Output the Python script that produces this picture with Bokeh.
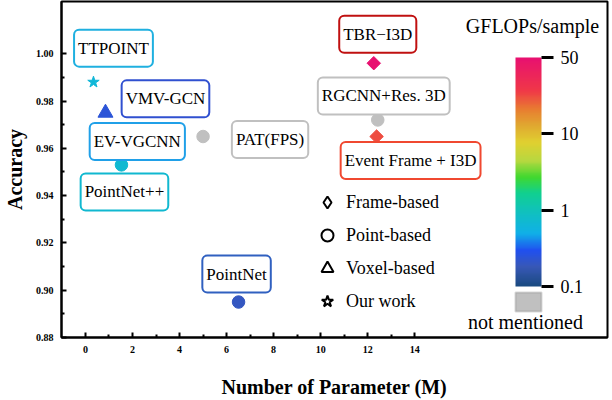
import numpy as np
from bokeh.plotting import figure
from bokeh.models import (ColumnDataSource, Label, Legend, LegendItem, ColorBar,
                          LinearColorMapper, FixedTicker, NumeralTickFormatter,
                          BoxAnnotation, Range1d)
from bokeh.transform import factor_mark
from bokeh.embed import file_html
from bokeh.resources import INLINE

# ---------------- data ----------------
methods = ["TTPOINT", "VMV-GCN", "EV-VGCNN", "PointNet++", "PAT(FPS)",
           "PointNet", "TBR\u2212I3D", "RGCNN+Res. 3D", "Event Frame + I3D"]
params = [0.34, 0.85, 0.80, 1.53, 5.00, 6.51, 12.26, 12.43, 12.38]
accuracy = [0.988, 0.975, 0.957, 0.953, 0.965, 0.895, 0.996, 0.972, 0.965]
kinds = ["Our work", "Voxel-based", "Voxel-based", "Point-based", "Point-based",
         "Point-based", "Frame-based", "Point-based", "Frame-based"]
gflops = [0.63, 0.24, 0.40, 0.70, np.nan, 0.20, 50.0, np.nan, 22.0]  # nan = not mentioned

kind_names = ["Frame-based", "Point-based", "Voxel-based", "Our work"]

cbar_ticks = [0.1, 1, 10, 50]
x_ticks = [0, 2, 4, 6, 8, 10, 12, 14]
x_minor = [1, 3, 5, 7, 9, 11, 13]
y_ticks = [0.88, 0.90, 0.92, 0.94, 0.96, 0.98, 1.00]
y_minor = [0.89, 0.91, 0.93, 0.95, 0.97, 0.99]

# ---------------- styles / layout ----------------
SERIF = "Liberation Serif"
kind_markers = ["square", "circle", "triangle", "star"]   # square turned 45 deg = diamond
legend_markers = ["diamond", "circle", "triangle", "star"]
kind_angle = {"Frame-based": np.pi / 4, "Point-based": 0.0, "Voxel-based": 0.0, "Our work": 0.0}
kind_size = {"Frame-based": 9.5, "Point-based": 12.5, "Voxel-based": 15, "Our work": 12}
label_border = ["#1fb0e0", "#3050d0", "#20a0e8", "#10b8d0", "#c0c0c0",
                "#3060c0", "#c01010", "#c0c0c0", "#f04830"]
label_dx = [20, 60, 33, 3, 67, -2, 4, 6, 34]
label_dy = [34, 14, 14, -27, -3, 28, 29, 24, -24]

# palette anchors (position on bar 0..3, colour)
anchors = [(0.00, "#1a4a80"), (0.26, "#3858b8"), (0.47, "#2050f0"), (0.69, "#10b0e8"),
           (0.96, "#10c0c0"), (1.22, "#10d090"), (1.43, "#40d830"), (1.65, "#b8d840"),
           (1.89, "#e0d030"), (2.11, "#e0a830"), (2.31, "#e88030"), (2.57, "#f03848"),
           (3.00, "#e81070")]


def hex2rgb(h):
    return [int(h[i:i + 2], 16) for i in (1, 3, 5)]


a_pos = np.array([a[0] for a in anchors])
a_rgb = np.array([hex2rgb(a[1]) for a in anchors], dtype=float)
grid = np.linspace(0, 3, 256)
palette = ["#%02x%02x%02x" % tuple(int(round(np.interp(g, a_pos, a_rgb[:, k]))) for k in range(3))
           for g in grid]

tick_idx = list(range(len(cbar_ticks)))


def bar_pos(g):
    if g is None or np.isnan(g):
        return np.nan
    return float(np.interp(np.log10(g), np.log10(cbar_ticks), tick_idx))


src = ColumnDataSource(dict(
    x=params, y=accuracy, kind=kinds, name=methods,
    cpos=[bar_pos(g) for g in gflops],
    size=[kind_size[k] for k in kinds],
    angle=[kind_angle[k] for k in kinds],
))

p = figure(width=612, height=400, output_backend="svg", toolbar_location=None,
           x_range=Range1d(-1.02, 22.2), y_range=Range1d(0.88, 1.0221),
           min_border_left=61, min_border_right=5, min_border_top=1, min_border_bottom=63)
p.styles = {"position": "absolute", "left": "0px", "top": "0px"}
p.grid.visible = False
p.outline_line_color = "black"
p.outline_line_width = 2
p.background_fill_color = "white"
p.border_fill_color = "white"

for ax in (p.xaxis[0], p.yaxis[0]):
    ax.axis_line_width = 2
    ax.major_tick_in = 5
    ax.major_tick_out = 0
    ax.minor_tick_in = 3
    ax.minor_tick_out = 0
    ax.major_tick_line_width = 2
    ax.minor_tick_line_width = 2
    ax.major_label_text_font = SERIF
    ax.major_label_text_font_style = "bold"
    ax.major_label_text_font_size = "10px"
    ax.major_label_text_color = "black"
    ax.axis_label_text_font = SERIF
    ax.axis_label_text_font_style = "bold"
    ax.axis_label_text_font_size = "20px"
    ax.axis_label_text_color = "black"

p.xaxis.ticker = FixedTicker(ticks=x_ticks, minor_ticks=x_minor)
p.yaxis.ticker = FixedTicker(ticks=y_ticks, minor_ticks=y_minor)
p.yaxis.formatter = NumeralTickFormatter(format="0.00")
p.xaxis.axis_label = "Number of Parameter (M)"
p.yaxis.axis_label = "Accuracy"
p.xaxis.major_label_standoff = 8
p.yaxis.major_label_standoff = 8
p.xaxis.axis_label_standoff = 20
p.yaxis.axis_label_standoff = 7

mapper = LinearColorMapper(palette=palette, low=0, high=3, nan_color="#c0c0c0")

p.scatter("x", "y", source=src, size="size", angle="angle",
          marker=factor_mark("kind", kind_markers, kind_names),
          fill_color={"field": "cpos", "transform": mapper},
          line_color={"field": "cpos", "transform": mapper})

# labels with rounded boxes
for i, name in enumerate(methods):
    p.add_layout(Label(x=params[i], y=accuracy[i], x_offset=label_dx[i], y_offset=label_dy[i],
                       text=name, text_align="center", text_baseline="middle",
                       text_font=SERIF, text_font_size="17px", text_color="black",
                       background_fill_color="white", border_line_color=label_border[i],
                       border_line_width=2, border_radius=5, padding=(4, 9)))

# legend with outline markers (dummy renderers hold one off-screen NaN point)
items = []
for k, m in zip(kind_names, legend_markers):
    r = p.scatter(x=[np.nan], y=[np.nan], marker=m, fill_color="white",
                  line_color="black", line_width=2)
    items.append(LegendItem(label=k, renderers=[r], index=0))
legend = Legend(items=items, location=(251, 21), glyph_width=30, glyph_height=30,
                spacing=3, label_standoff=4, padding=0, margin=0,
                border_line_color=None, background_fill_alpha=0,
                label_text_font=SERIF, label_text_font_size="18px", label_text_color="black")
p.add_layout(legend, "center")

# colour bar
cbar = ColorBar(color_mapper=mapper, ticker=FixedTicker(ticks=tick_idx),
                major_label_overrides={i: str(t) for i, t in zip(tick_idx, cbar_ticks)},
                width=26, height=229, location=(454, 51), padding=0, margin=0,
                bar_line_color=None, border_line_color=None, background_fill_alpha=0,
                major_tick_in=0, major_tick_out=12, major_tick_line_color="black",
                major_tick_line_width=3, minor_tick_line_color=None, label_standoff=7,
                major_label_text_font=SERIF, major_label_text_font_size="18px",
                major_label_text_color="black")
p.add_layout(cbar, "center")

p.add_layout(Label(x=471, y=312, x_units="screen", y_units="screen", text="GFLOPs/sample",
                   text_align="center", text_baseline="middle", text_font=SERIF,
                   text_font_size="20px", text_color="black"))
p.add_layout(BoxAnnotation(left=454, right=480, top=45, bottom=26, left_units="screen",
                           right_units="screen", top_units="screen", bottom_units="screen",
                           fill_color="#c0c0c0", fill_alpha=1, line_color="#808080", line_width=2))
p.add_layout(Label(x=464, y=16, x_units="screen", y_units="screen", text="not mentioned",
                   text_align="center", text_baseline="middle", text_font=SERIF,
                   text_font_size="20px", text_color="black"))

open("out.html", "w").write(file_html(p, INLINE))
